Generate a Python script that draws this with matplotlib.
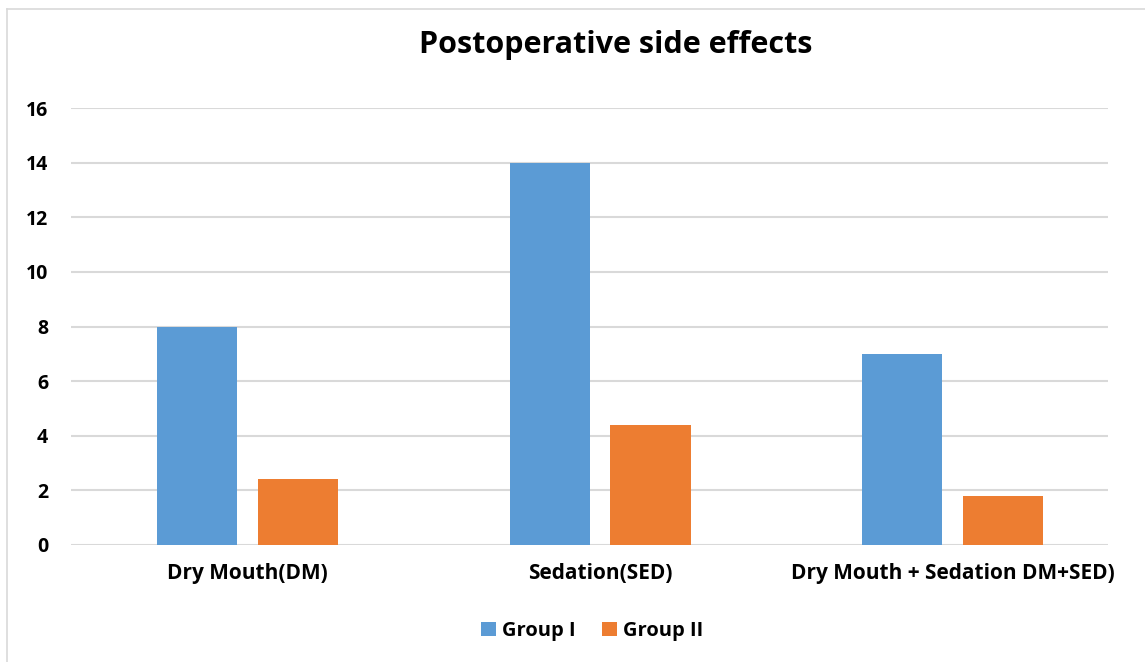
import numpy as np
import matplotlib.pyplot as plt
from matplotlib.lines import Line2D

# -----------------------
# Data
# -----------------------
categories = ["Dry Mouth(DM)", "Sedation(SED)", "Dry Mouth + Sedation DM+SED)"]
group_1 = [8, 14, 7]
group_2 = [2.4, 4.4, 1.8]
series_names = ["Group I", "Group II"]
y_ticks = [0, 2, 4, 6, 8, 10, 12, 14, 16]

BLUE = "#5B9BD5"
ORANGE = "#ED7D31"
GRID = "#D9D9D9"

plt.rcParams["font.family"] = ["Open Sans", "DejaVu Sans"]
plt.rcParams["font.weight"] = "bold"

W, H = 1145, 662
fig = plt.figure(figsize=(W / 100, H / 100), dpi=100)
ax = fig.add_axes([71 / W, 1 - 545 / H, (1108 - 71) / W, (545 - 108) / H])

x = np.arange(len(categories))
width = 0.227
offset = 0.143
ax.bar(x - offset, group_1, width, color=BLUE, label=series_names[0], zorder=3)
ax.bar(x + offset, group_2, width, color=ORANGE, label=series_names[1], zorder=3)

ax.set_xlim(-0.5, 2.44)
ax.set_ylim(0, 16)
ax.set_yticks(y_ticks)
ax.set_xticks(x)
ax.set_xticklabels(categories, fontsize=15)
ax.grid(axis="y", color=GRID, linewidth=1.5, zorder=0)
ax.tick_params(axis="y", length=0, labelsize=14, pad=16.5)
ax.tick_params(axis="x", length=0, pad=13)
for s in ax.spines.values():
    s.set_visible(False)

fig.text(0.538, 1 - 45 / H, "Postoperative side effects", ha="center", va="center",
         fontsize=22, fontweight="bold")

ax.legend(loc="center", bbox_to_anchor=((592 - 71) / (1108 - 71), (545 - 631) / (545 - 108)),
          ncol=2, frameon=False, fontsize=14.5, handlelength=0.75, handleheight=0.75,
          handletextpad=0.3, columnspacing=1.3)

# light chart border on the left and top edges
fig.add_artist(Line2D([7 / W, 7 / W], [0, 1 - 9 / H], color=GRID, linewidth=1.2))
fig.add_artist(Line2D([7 / W, 1], [1 - 9 / H, 1 - 9 / H], color=GRID, linewidth=1.2))

fig.savefig("out.png", dpi=100)
